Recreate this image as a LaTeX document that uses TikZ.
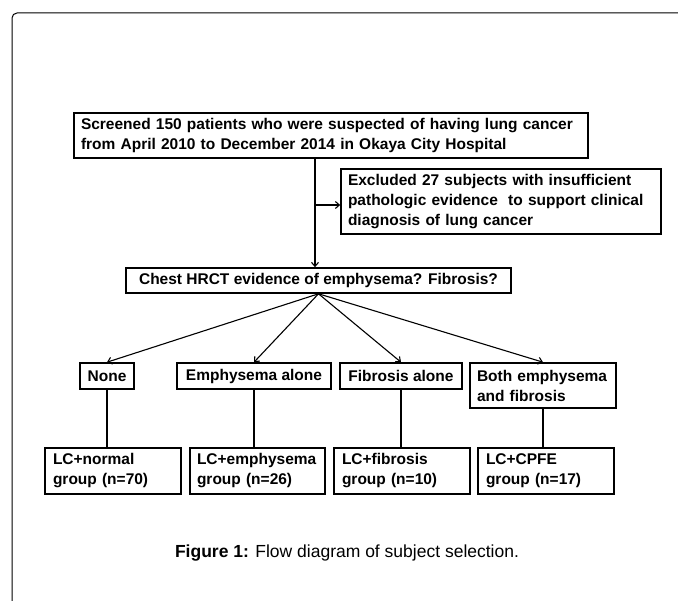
\documentclass[tikz,border=0pt]{standalone}
\usepackage{fontspec}
\setmainfont{Liberation Sans}
\usetikzlibrary{arrows.meta}
\tikzset{
  box/.style={draw, line width=1.6pt, inner sep=0pt, font=\bfseries\fontsize{15.5}{20}\selectfont},
  lbox/.style={box, align=left},
  link/.style={line width=1.1pt},
  >={Straight Barb[length=4pt,width=7pt]}
}
\begin{document}
\begin{tikzpicture}[x=1pt, y=-1pt]
\useasboundingbox (0,0) rectangle (678,601);
% frame
\draw[line width=1pt, rounded corners=5pt] (12,601) -- (12,13) -- (678,13);

\node[lbox, minimum width=514pt, minimum height=45pt, text width=500pt] (screen) at (331,135.5)
  {Screened 150 patients who were suspected of having lung cancer\\from April 2010 to December 2014 in Okaya City Hospital};
\node[lbox, minimum width=320pt, minimum height=65pt, text width=306pt] (exclude) at (501,201.5)
  {Excluded 27 subjects with insufficient\\pathologic evidence \ to support clinical\\diagnosis of lung cancer};
\node[box, minimum width=385pt, minimum height=25pt] (chest) at (318.5,280.5)
  {Chest HRCT evidence of emphysema? Fibrosis?};

% findings
\node[box, minimum width=54pt, minimum height=26pt] (none) at (107,376) {None};
\node[box, minimum width=154pt, minimum height=26pt] (emph) at (254,376) {Emphysema alone};
\node[box, minimum width=122pt, minimum height=26pt] (fib) at (401,376) {Fibrosis alone};
\node[lbox, minimum width=146pt, minimum height=45pt, text width=132pt] (both) at (543,385.5)
  {Both emphysema\\and fibrosis};

% groups
\node[lbox, minimum width=136pt, minimum height=46pt, text width=120pt] (normal) at (113,471)
  {LC+normal\\group (n=70)};
\node[lbox, minimum width=135pt, minimum height=46pt, text width=121pt] (emphgrp) at (257.5,471)
  {LC+emphysema\\group (n=26)};
\node[lbox, minimum width=136pt, minimum height=46pt, text width=120pt] (fibgrp) at (402,471)
  {LC+fibrosis\\group (n=10)};
\node[lbox, minimum width=136pt, minimum height=46pt, text width=120pt] (cpfe) at (546,471)
  {LC+CPFE\\group (n=17)};

\node[font=\fontsize{17.5}{20}\selectfont] (caption) at (347,553)
  {\textbf{Figure 1:} Flow diagram of subject selection.};

\coordinate (trunk) at (315,205);
\draw[link,->] (trunk |- screen.south) -- (trunk |- chest.north);
\draw[link,->] (trunk) -- (trunk -| exclude.west);

\foreach \n in {none,emph,fib,both}
  \draw[link,->] (chest.south) -- (\n.north);

\draw[link] (none.south) -- (none.south |- normal.north);
\draw[link] (emph.south) -- (emph.south |- emphgrp.north);
\draw[link] (fib.south) -- (fib.south |- fibgrp.north);
\draw[link] (both.south) -- (both.south |- cpfe.north);
\end{tikzpicture}
\end{document}
